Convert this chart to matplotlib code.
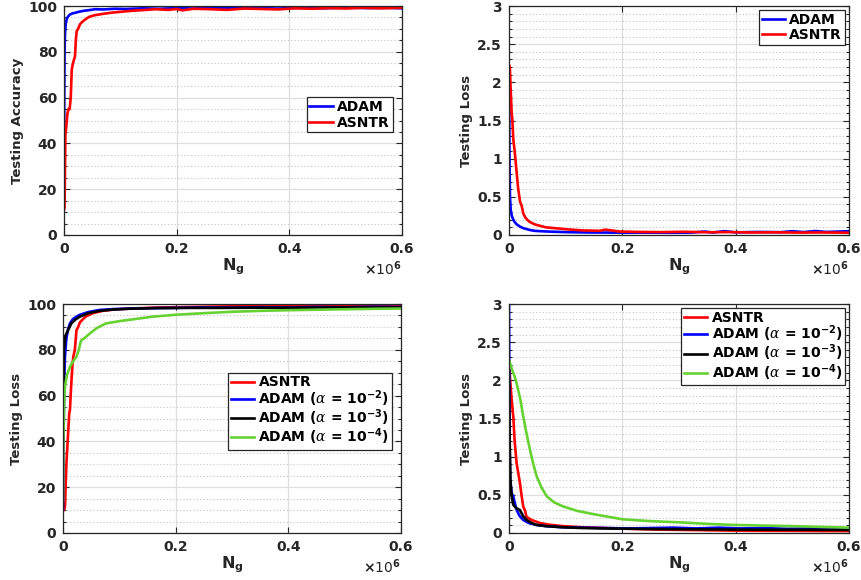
import numpy as np
import matplotlib
matplotlib.use('Agg')
import matplotlib.pyplot as plt
from matplotlib.ticker import FuncFormatter, MultipleLocator

plt.rcParams['font.family'] = ['DejaVu Sans']
plt.rcParams['font.weight'] = 'bold'
plt.rcParams['mathtext.fontset'] = 'custom'
plt.rcParams['mathtext.rm'] = 'DejaVu Sans:weight=bold'
plt.rcParams['mathtext.bf'] = 'DejaVu Sans:weight=bold'
plt.rcParams['mathtext.it'] = 'DejaVu Serif:style=italic:weight=normal'

# colours (MATLAB-like)
RED = '#ff0000'
BLUE = '#0000ff'
BLACK = '#000000'
GREEN = '#66d232'
AX_COL = '#262626'

# ---- top left: testing accuracy, ADAM vs ASNTR ----
tl_adam_x = [0, 500, 1000, 1800, 3000, 5000, 7600, 10000, 15000, 19500, 25000, 35000, 45000,
             55000, 70000, 90000, 110000, 140000, 170000, 200000, 230000, 260000, 300000,
             340000, 380000, 420000, 460000, 500000, 540000, 580000, 600000]
tl_adam_y = [29, 60, 80, 88, 92, 94.5, 95.5, 96.2, 96.8, 97.0, 97.4, 97.9, 98.2,
             98.6, 98.5, 98.8, 98.7, 99.0, 98.8, 99.1, 98.9, 99.2, 99.0,
             99.1, 98.9, 99.2, 99.0, 99.3, 99.1, 99.2, 99.0]
tl_asntr_x = [0, 1000, 1800, 2500, 4000, 6000, 8000, 10000, 12000, 13700, 15000, 17000, 19500,
              21000, 22500, 25000, 28400, 32000, 37000, 45000, 55000, 70000, 85000, 102000,
              120000, 140000, 162000, 185000, 200000, 210000, 230000, 260000, 290000, 320000,
              350000, 380000, 410000, 440000, 470000, 500000, 530000, 560000, 600000]
tl_asntr_y = [11, 12, 30, 44, 47, 53, 55, 55, 60, 72, 74, 76, 78,
              85, 89, 90, 92, 93, 94, 95.3, 96, 96.6, 97.1, 97.5,
              97.9, 98.2, 98.6, 98.3, 98.7, 98.1, 98.8, 98.6, 98.3, 98.9,
              98.7, 98.5, 99.0, 98.8, 99.1, 98.9, 99.2, 99.0, 99.2]

# ---- top right: testing loss, ADAM vs ASNTR ----
tr_adam_x = [0, 500, 1000, 1760, 3000, 5000, 7600, 10000, 13500, 19400, 25000, 30000, 37000,
             45000, 55000, 70000, 90000, 110000, 140000, 170000, 200000, 240000, 280000,
             320000, 345000, 360000, 380000, 400000, 440000, 480000, 500000, 520000, 540000,
             560000, 580000, 600000]
tr_adam_y = [2.15, 1.4, 0.9, 0.5, 0.33, 0.25, 0.2, 0.17, 0.14, 0.11, 0.09, 0.08, 0.065,
             0.055, 0.05, 0.045, 0.04, 0.036, 0.033, 0.032, 0.03, 0.031, 0.029,
             0.03, 0.045, 0.033, 0.05, 0.035, 0.04, 0.037, 0.05, 0.038, 0.052,
             0.04, 0.045, 0.05]
tr_asntr_x = [0, 1500, 3000, 4700, 6000, 7600, 10000, 13500, 16000, 19400, 22400, 25300, 28000,
              32000, 37000, 45000, 55000, 65000, 80000, 102000, 130000, 160000, 170000, 196000,
              230000, 270000, 310000, 350000, 390000, 430000, 470000, 510000, 550000, 600000]
tr_asntr_y = [2.23, 2.2, 1.9, 1.6, 1.5, 1.25, 1.1, 0.82, 0.62, 0.44, 0.38, 0.28, 0.24,
              0.2, 0.17, 0.14, 0.12, 0.1, 0.09, 0.075, 0.06, 0.055, 0.07, 0.045,
              0.04, 0.038, 0.042, 0.036, 0.038, 0.033, 0.035, 0.031, 0.033, 0.03]

# ---- bottom left: accuracy, ASNTR vs ADAM with three step sizes ----
bl_asntr_x = [0, 2000, 3500, 6000, 9400, 11000, 12400, 14000, 15400, 17000, 18300, 21000, 24000,
              27000, 30000, 40000, 53000, 70000, 90000, 120000, 160000, 200000, 250000,
              300000, 350000, 400000, 450000, 500000, 550000, 600000]
bl_asntr_y = [10, 10, 11.5, 30, 45, 52, 54, 62, 68, 74, 77, 80, 88.6,
              90, 92, 94.5, 96, 97, 97.6, 98.0, 98.4, 98.6, 98.8,
              99.0, 99.1, 99.2, 99.1, 99.3, 99.4, 99.5]
bl_adam2_x = [0, 1000, 2000, 3500, 6000, 9000, 12400, 18000, 24000, 30000, 45000, 65000, 90000,
              120000, 160000, 200000, 250000, 300000, 350000, 400000, 450000, 500000, 550000, 600000]
bl_adam2_y = [10, 40, 65, 77, 85, 89, 91.6, 93.5, 94.5, 95.3, 96.5, 97.4, 97.8,
              98.0, 98.2, 98.3, 98.5, 98.4, 98.6, 98.5, 98.7, 98.6, 98.8, 98.7]
bl_adam3_x = [0, 800, 1800, 4000, 9000, 15000, 22000, 30000, 45000, 65000, 90000, 124000,
              170000, 220000, 280000, 350000, 420000, 500000, 600000]
bl_adam3_y = [40, 65, 80, 86, 88.6, 91.6, 93.2, 94.5, 96, 97, 97.6, 98,
              98.2, 98.3, 98.3, 98.4, 98.4, 98.5, 98.5]
bl_adam4_x = [0, 800, 1800, 3500, 7000, 12400, 18000, 24000, 28000, 32000, 40000, 47000, 60000,
              76000, 100000, 124000, 160000, 200000, 250000, 300000, 350000, 400000, 450000,
              500000, 550000, 600000]
bl_adam4_y = [14, 40, 55, 64, 69, 72.6, 75, 77, 80, 84, 85.5, 87, 89.5,
              91.5, 92.5, 93.3, 94.5, 95.3, 96.0, 96.6, 97.0, 97.3, 97.5,
              97.7, 97.9, 98.0]

# ---- bottom right: loss, ASNTR vs ADAM with three step sizes ----
br_asntr_x = [0, 2000, 4700, 7600, 10000, 13500, 16000, 19400, 22000, 25300, 28000, 31000, 40000,
              55000, 70000, 95000, 130000, 170000, 210000, 260000, 310000, 360000, 410000,
              460000, 510000, 560000, 600000]
br_asntr_y = [2.25, 2.0, 1.75, 1.52, 1.2, 0.91, 0.8, 0.65, 0.5, 0.34, 0.3, 0.21, 0.17,
              0.13, 0.11, 0.09, 0.075, 0.065, 0.055, 0.045, 0.04, 0.035, 0.03,
              0.028, 0.027, 0.025, 0.025]
br_adam2_x = [0, 500, 1000, 2000, 4700, 7600, 10000, 13500, 19000, 25300, 35000, 49000, 65000,
              95000, 130000, 170000, 210000, 250000, 290000, 330000, 370000, 410000, 450000,
              490000, 530000, 570000, 600000]
br_adam2_y = [3.0, 2.0, 1.2, 0.7, 0.52, 0.48, 0.4, 0.3, 0.22, 0.17, 0.13, 0.105, 0.09,
              0.075, 0.07, 0.065, 0.06, 0.065, 0.07, 0.06, 0.07, 0.06, 0.065,
              0.055, 0.06, 0.065, 0.055]
br_adam3_x = [0, 1000, 2500, 4700, 7600, 12000, 19400, 25000, 31000, 40000, 49000, 65000, 95000,
              130000, 170000, 220000, 280000, 340000, 400000, 460000, 530000, 600000]
br_adam3_y = [2.1, 1.3, 0.7, 0.48, 0.37, 0.33, 0.3, 0.22, 0.17, 0.13, 0.105, 0.09, 0.075,
              0.065, 0.06, 0.055, 0.05, 0.048, 0.045, 0.043, 0.042, 0.04]
br_adam4_x = [0, 5000, 10000, 13500, 20000, 25300, 31000, 37000, 43000, 49000, 57000, 66700,
              80000, 95000, 120000, 154000, 200000, 250000, 300000, 350000, 400000, 450000,
              500000, 550000, 600000]
br_adam4_y = [2.27, 2.15, 2.05, 1.96, 1.75, 1.52, 1.3, 1.09, 0.9, 0.74, 0.6, 0.48,
              0.4, 0.35, 0.29, 0.24, 0.18, 0.155, 0.14, 0.12, 0.105, 0.097,
              0.09, 0.08, 0.07]

lab_a2 = r'ADAM ($\alpha$ = 10$^{-2}$)'
lab_a3 = r'ADAM ($\alpha$ = 10$^{-3}$)'
lab_a4 = r'ADAM ($\alpha$ = 10$^{-4}$)'

W, H = 862, 580
fig = plt.figure(figsize=(W / 100, H / 100), dpi=100)


def make_ax(l, t, r, b):
    # pixel box -> figure fraction
    return fig.add_axes([l / W, 1 - b / H, (r - l) / W, (b - t) / H])


def style(ax, ymax, ystep, yminor, ylabel):
    ax.set_xlim(0, 600000)
    ax.set_ylim(0, ymax)
    ax.xaxis.set_major_locator(MultipleLocator(200000))
    ax.yaxis.set_major_locator(MultipleLocator(ystep))
    ax.yaxis.set_minor_locator(MultipleLocator(yminor))
    ax.xaxis.set_major_formatter(FuncFormatter(lambda v, p: '%g' % (v / 1e6)))
    ax.yaxis.set_major_formatter(FuncFormatter(lambda v, p: '%g' % v))
    ax.grid(True, which='major', color='#dedede', lw=0.9, ls='-')
    ax.grid(True, which='minor', axis='y', color='#c4c4c4', lw=0.8, ls=(0, (1, 2)))
    ax.set_axisbelow(True)
    ax.tick_params(which='both', direction='in', top=True, right=True,
                   colors=AX_COL, labelsize=10, width=0.8)
    ax.tick_params(which='major', length=4, pad=5)
    ax.tick_params(which='minor', length=2)
    ax.tick_params(axis='x', which='minor', top=False, bottom=False)
    for s in ax.spines.values():
        s.set_color(AX_COL)
        s.set_linewidth(0.9)
    for lbl in ax.get_xticklabels() + ax.get_yticklabels():
        lbl.set_fontweight('bold')
    ax.set_xlabel(r'N$_\mathregular{g}$', fontsize=11.5, fontweight='bold', color=AX_COL)
    ax.xaxis.set_label_coords(0.5, -0.095)
    ax.set_ylabel(ylabel, fontsize=9.5, fontweight='bold', color=AX_COL)
    ax.text(1.0, -0.145, r'$\times$10$^{6}$', transform=ax.transAxes, ha='right',
            va='center', fontsize=10, fontweight='normal', color=AX_COL,
            math_fontfamily='dejavusans')


def legend(ax, loc, anchor, sp):
    lg = ax.legend(loc=loc, bbox_to_anchor=anchor, frameon=True, fancybox=False,
                   edgecolor=AX_COL, framealpha=1, borderpad=0.2, labelspacing=sp,
                   handlelength=1.7, handletextpad=0.3, borderaxespad=0.3,
                   prop={'weight': 'bold', 'size': 10})
    lg.get_frame().set_linewidth(0.9)


LW = 1.9

ax1 = make_ax(64, 6, 402, 235)
ax1.plot(tl_adam_x, tl_adam_y, color=BLUE, lw=LW, label='ADAM')
ax1.plot(tl_asntr_x, tl_asntr_y, color=RED, lw=LW, label='ASNTR')
style(ax1, 100, 20, 5, 'Testing Accuracy')
ax1.yaxis.set_label_coords(-0.118, 0.5)
legend(ax1, 'lower right', (0.985, 0.43), 0.1)

ax2 = make_ax(509, 6, 849, 235)
ax2.plot(tr_adam_x, tr_adam_y, color=BLUE, lw=LW, label='ADAM')
ax2.plot(tr_asntr_x, tr_asntr_y, color=RED, lw=LW, label='ASNTR')
style(ax2, 3, 0.5, 0.1, 'Testing Loss')
ax2.yaxis.set_label_coords(-0.105, 0.5)
legend(ax2, 'upper right', (1.0, 1.0), 0.1)

ax3 = make_ax(63, 304, 401, 533)
ax3.plot(bl_asntr_x, bl_asntr_y, color=RED, lw=LW, label='ASNTR')
ax3.plot(bl_adam2_x, bl_adam2_y, color=BLUE, lw=LW, label=lab_a2)
ax3.plot(bl_adam3_x, bl_adam3_y, color=BLACK, lw=LW, label=lab_a3)
ax3.plot(bl_adam4_x, bl_adam4_y, color=GREEN, lw=LW, label=lab_a4)
style(ax3, 100, 20, 5, 'Testing Loss')
ax3.yaxis.set_label_coords(-0.118, 0.5)
legend(ax3, 'lower right', (0.985, 0.345), -0.1)

ax4 = make_ax(509, 304, 849, 533)
ax4.plot(br_asntr_x, br_asntr_y, color=RED, lw=LW, label='ASNTR')
ax4.plot(br_adam2_x, br_adam2_y, color=BLUE, lw=LW, label=lab_a2)
ax4.plot(br_adam3_x, br_adam3_y, color=BLACK, lw=LW, label=lab_a3)
ax4.plot(br_adam4_x, br_adam4_y, color=GREEN, lw=LW, label=lab_a4)
style(ax4, 3, 0.5, 0.1, 'Testing Loss')
ax4.yaxis.set_label_coords(-0.105, 0.5)
legend(ax4, 'upper right', (1.0, 1.0), -0.1)

fig.savefig('out.png', dpi=100)
